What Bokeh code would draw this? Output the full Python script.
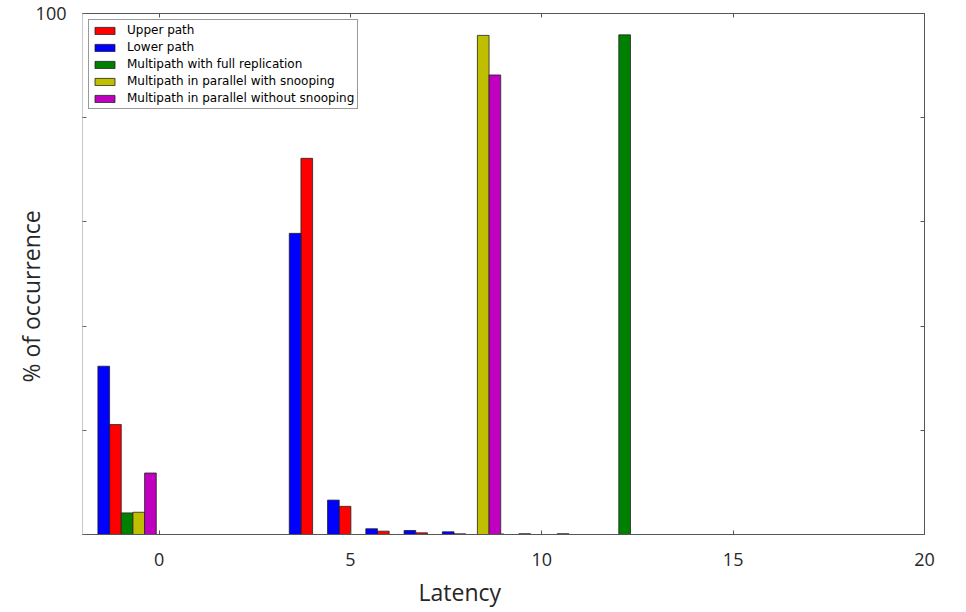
import math
from bokeh.plotting import figure
from bokeh.models import (ColumnDataSource, FixedTicker, LinearAxis, Range1d,
                          Legend, LegendItem, Title)
from bokeh.transform import dodge
from bokeh.embed import file_html
from bokeh.resources import INLINE

# ---- data ----
bins = list(range(0, 14))  # latency bins
upper_path = [21.1, 0, 0, 0, 0, 72.2, 5.4, 0.64, 0.32, 0.13, 0.1, 0, 0, 0]
lower_path = [32.3, 0, 0, 0, 0, 57.8, 6.6, 1.1, 0.77, 0.51, 0.15, 0.15, 0.15, 0]
full_replication = [4.15, 0, 0, 0, 0, 0, 0, 0, 0, 0, 0, 0, 0, 95.9]
parallel_snoop = [4.27, 0, 0, 0, 0, 0, 0, 0, 0, 95.8, 0, 0, 0, 0]
parallel_nosnoop = [11.8, 0, 0, 0, 0, 0, 0, 0, 0, 88.2, 0, 0, 0, 0]

series_names = ["Upper path", "Lower path", "Multipath with full replication",
                "Multipath in parallel with snooping",
                "Multipath in parallel without snooping"]
x_ticks = [0, 5, 10, 15, 20]
y_ticks = [0, 20, 40, 60, 80, 100]
x_title = "Latency"
y_title = "% of occurrence"

# ---- styles ----
colors = ["#ff0000", "#0000ff", "#008000", "#bfbf00", "#bf00bf"]
offsets = [-1.14, -1.445, -0.835, -0.53, -0.225]
bar_w = 0.305
font = "Open Sans"
txt = "#262626"

p = figure(width=964, height=612, output_backend="svg", toolbar_location=None,
           x_range=Range1d(-2, 20), y_range=Range1d(0, 100),
           min_border_left=82, min_border_right=40, min_border_top=13,
           min_border_bottom=77)
p.grid.visible = False
p.outline_line_color = "#555555"
p.background_fill_color = "white"
p.border_fill_color = "white"

all_vals = [upper_path, lower_path, full_replication, parallel_snoop, parallel_nosnoop]
items = []
for name, vals, col, off in zip(series_names, all_vals, colors, offsets):
    b = [x for x, v in zip(bins, vals) if v > 0]
    t = [v for v in vals if v > 0]
    src = ColumnDataSource(dict(bin=b, top=t))
    r = p.vbar(x=dodge("bin", off, range=p.x_range), top="top", bottom=0,
               width=bar_w, source=src, fill_color=col, line_color="#222222",
               line_width=0.8)
    items.append(LegendItem(label=name, renderers=[r]))

# x axis
xa = p.xaxis[0]
xa.ticker = FixedTicker(ticks=x_ticks)
xa.major_tick_in = 4
xa.major_tick_out = 0
xa.minor_tick_line_color = None
xa.axis_line_color = "#555555"
xa.major_tick_line_color = "#555555"
xa.major_label_standoff = 18
xa.major_label_text_font = font
xa.major_label_text_font_size = "18px"
xa.major_label_text_color = txt

# y axis
ya = p.yaxis[0]
ya.ticker = FixedTicker(ticks=y_ticks)
ya.major_label_overrides = {t: ("100" if t == 100 else "") for t in y_ticks}
ya.major_tick_in = 4
ya.major_tick_out = 0
ya.minor_tick_line_color = None
ya.axis_line_color = "#c8c8c8"
ya.major_tick_line_color = "#666666"
ya.major_label_standoff = 16
ya.major_label_text_font = font
ya.major_label_text_font_size = "18px"
ya.major_label_text_color = txt
ya.major_label_text_baseline = "top"

# top and right axes (ticks only)
top_ax = LinearAxis(ticker=FixedTicker(ticks=x_ticks[:-1]), major_tick_in=4,
                    major_tick_out=0, minor_tick_line_color=None,
                    major_label_text_font_size="0px", major_label_standoff=0,
                    axis_line_color="#555555", major_tick_line_color="#555555")
p.add_layout(top_ax, "above")
right_ax = LinearAxis(ticker=FixedTicker(ticks=y_ticks[1:-1]), major_tick_in=4,
                      major_tick_out=0, minor_tick_line_color=None,
                      major_label_text_font_size="0px", major_label_standoff=0,
                      axis_line_color="#555555", major_tick_line_color="#555555")
p.add_layout(right_ax, "right")

# axis titles
p.add_layout(Title(text=x_title, align="left", offset=336, standoff=10,
                   text_font=font, text_font_size="23px",
                   text_font_style="normal", text_color=txt), "below")
p.add_layout(Title(text=y_title, align="left", offset=152, standoff=-28,
                   vertical_align="bottom", text_font=font,
                   text_font_size="23px", text_font_style="normal",
                   text_color=txt), "left")

legend = Legend(items=items, location="top_left", margin=6, padding=3,
                spacing=3, label_height=12, glyph_height=9, glyph_width=25,
                label_standoff=10, label_text_font="DejaVu Sans",
                label_text_font_size="12px", label_text_color="black",
                border_line_color="#333333", border_line_width=1,
                background_fill_color="white", background_fill_alpha=1)
p.add_layout(legend, "center")

open("out.html", "w").write(file_html(p, INLINE))
